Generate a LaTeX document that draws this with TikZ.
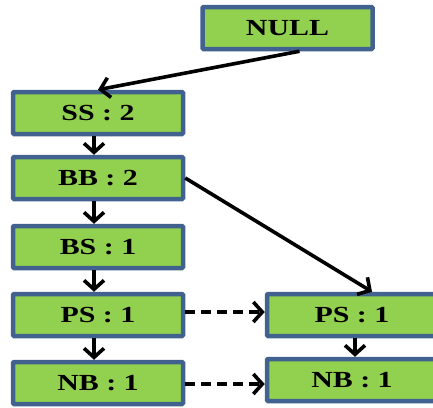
\documentclass[tikz,border=0pt]{standalone}
\usepackage{fontspec}
\setmainfont{Liberation Serif}
\usetikzlibrary{arrows.meta}
\definecolor{boxgreen}{HTML}{92D050}
\definecolor{boxblue}{HTML}{41628F}
\newcommand{\lbl}[1]{\scalebox{1.3}[1]{\fontsize{23}{26}\selectfont\bfseries #1}}
\tikzset{
  box/.style={draw=boxblue, fill=boxgreen, line width=4.5pt, minimum width=170pt, minimum height=42pt, inner sep=0pt, rounded corners=1pt},
  arr/.style={line width=3.6pt, -{Straight Barb[length=9pt,width=20pt,line width=3.6pt]}},
  darr/.style={arr, dash pattern=on 10pt off 6pt}
}
\begin{document}
\begin{tikzpicture}[x=1pt,y=-1pt]
\useasboundingbox (0,0) rectangle (433,407);
\begin{scope}
\clip (0,0) rectangle (433,407);
\node[box] (null) at (287.5,28) {\lbl{NULL}};
\node[box] (ss) at (98,113) {\lbl{SS : 2}};
\node[box] (bb) at (98,178) {\lbl{BB : 2}};
\node[box] (bs) at (98,247) {\lbl{BS : 1}};
\node[box] (ps) at (98,315) {\lbl{PS : 1}};
\node[box] (nb) at (98,383) {\lbl{NB : 1}};
\node[box] (ps2) at (352,315) {\lbl{PS : 1}};
\node[box] (nb2) at (352,380) {\lbl{NB : 1}};
\end{scope}
\coordinate (psend) at ([yshift=3pt]ps.east -| ps2.west);
\coordinate (nbend) at ([yshift=-1pt]nb.east -| nb2.west);
\draw[arr] ([xshift=12pt]null.south) -- ([xshift=0pt]ss.north);
\draw[arr] ([xshift=-4pt]ss.south) -- ([xshift=-4pt]bb.north);
\draw[arr] ([xshift=-4pt]bb.south) -- ([xshift=-4pt]bs.north);
\draw[arr] ([xshift=-4pt]bs.south) -- ([xshift=-4pt]ps.north);
\draw[arr] ([xshift=-4pt]ps.south) -- ([xshift=-4pt]nb.north);
\draw[arr] (bb.east) -- ([xshift=20pt]ps2.north);
\draw[arr] ([xshift=3pt]ps2.south) -- ([xshift=3pt]nb2.north);
\draw[darr] ([yshift=3pt]ps.east) -- (psend);
\draw[darr] ([yshift=-1pt]nb.east) -- (nbend);
\end{tikzpicture}
\end{document}
